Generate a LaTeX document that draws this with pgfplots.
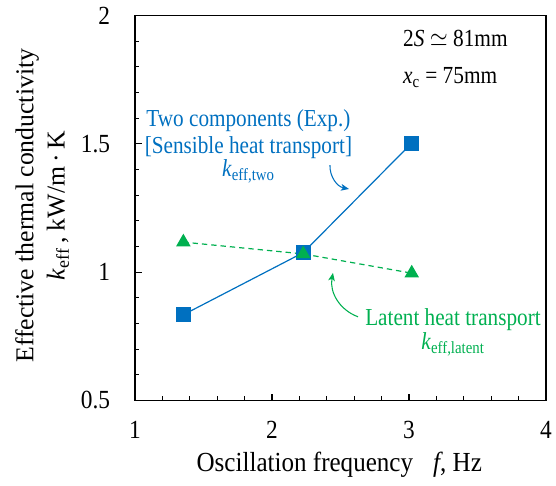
\documentclass[border=0pt]{standalone}
\usepackage{fontspec}
\setmainfont{Liberation Serif}
\usepackage{pgfplots}
\pgfplotsset{compat=1.18}
\usetikzlibrary{arrows.meta}
\definecolor{cblue}{HTML}{0070C0}
\definecolor{cgreen}{HTML}{00B050}
\begin{document}
\begin{tikzpicture}[x=1pt,y=1pt]
\begin{axis}[
  scale only axis,
  width=308.25pt, height=288.75pt,
  xmin=1, xmax=4, ymin=0.5, ymax=2,
  xtick={1,2,3,4}, ytick={0.5,1,1.5,2},
  minor x tick num=4, minor y tick num=4,
  tick align=inside,
  xtick pos=left, ytick pos=left,
  major tick length=5pt, minor tick length=3pt,
  axis line style={line width=1.1pt},
  every tick/.style={line width=0.8pt, black},
  /pgf/number format/assume math mode=true,
  ticklabel style={font=\fontsize{17.5}{20}\selectfont, inner sep=0pt, yscale=1.12},
  xticklabel style={anchor=north, yshift=-14pt},
  yticklabel style={anchor=east, xshift=-18.5pt},
  xlabel={Oscillation frequency\hspace{0.8em}\textit{f}, Hz},
  ylabel={Effective thermal conductivity\\\textit{k}\textsubscript{eff}\,, kW/m\,·\,K},
  xlabel style={font=\fontsize{18.8}{22}\selectfont, at={(axis description cs:0.497,-0.184)}, anchor=base, yscale=1.1},
  ylabel style={font=\fontsize{19.3}{23.5}\selectfont, at={(axis description cs:-0.226,0.506)}, anchor=center, align=center},
  clip=false,
]
\addplot[cblue, line width=0.9pt, mark=square*, mark size=5.2pt, mark options={solid, fill=cblue, draw=cblue}]
  coordinates {(1.353,0.834) (2.228,1.076) (3.015,1.500)};
\addplot[cgreen, line width=0.9pt, dashed, dash pattern=on 4pt off 3pt, mark=triangle*, mark size=5.4pt, mark options={solid, fill=cgreen, draw=cgreen}]
  coordinates {(1.353,1.117) (2.228,1.071) (3.02,0.996)};

\node[cblue, anchor=base, yscale=1.15, font=\fontsize{15.9}{19}\selectfont] at (axis cs:1.828,1.566) {Two components (Exp.)};
\node[cblue, anchor=base, yscale=1.15, font=\fontsize{15.9}{19}\selectfont] at (axis cs:1.828,1.463) {[Sensible heat transport]};
\node[cblue, anchor=base, yscale=1.15, font=\fontsize{15.9}{19}\selectfont] at (axis cs:1.828,1.371) {\textit{k}\textsubscript{eff,two}};
\draw[cblue, line width=0.8pt, -{Stealth[length=6pt, width=5pt, inset=1.5pt]}] (axis cs:2.423,1.417) to[bend right=40] (axis cs:2.562,1.324);

\node[cgreen, anchor=base, yscale=1.15, font=\fontsize{15.9}{19}\selectfont] at (axis cs:3.321,0.794) {Latent heat transport};
\node[cgreen, anchor=base, yscale=1.15, font=\fontsize{15.9}{19}\selectfont] at (axis cs:3.321,0.697) {\textit{k}\textsubscript{eff,latent}};
\draw[cgreen, line width=0.8pt, -{Stealth[length=6pt, width=5pt, inset=1.5pt]}] (axis cs:2.628,0.826) to[bend left=40] (axis cs:2.445,0.997);

\node[anchor=base west, inner sep=0pt, yscale=1.15, font=\fontsize{16}{19}\selectfont] at (axis cs:2.956,1.878) {2\textit{S} $\simeq$ 81mm};
\node[anchor=base west, inner sep=0pt, yscale=1.15, font=\fontsize{16}{19}\selectfont] at (axis cs:2.956,1.736) {\textit{x}\textsubscript{c} = 75mm};

\coordinate (bl) at (rel axis cs:0,0);
\coordinate (tr) at (rel axis cs:1,1);
\end{axis}
\pgfresetboundingbox
\useasboundingbox ([xshift=-101.25pt, yshift=-64.1pt]bl) rectangle ([xshift=7.5pt, yshift=11.6pt]tr);
\end{tikzpicture}
\end{document}
